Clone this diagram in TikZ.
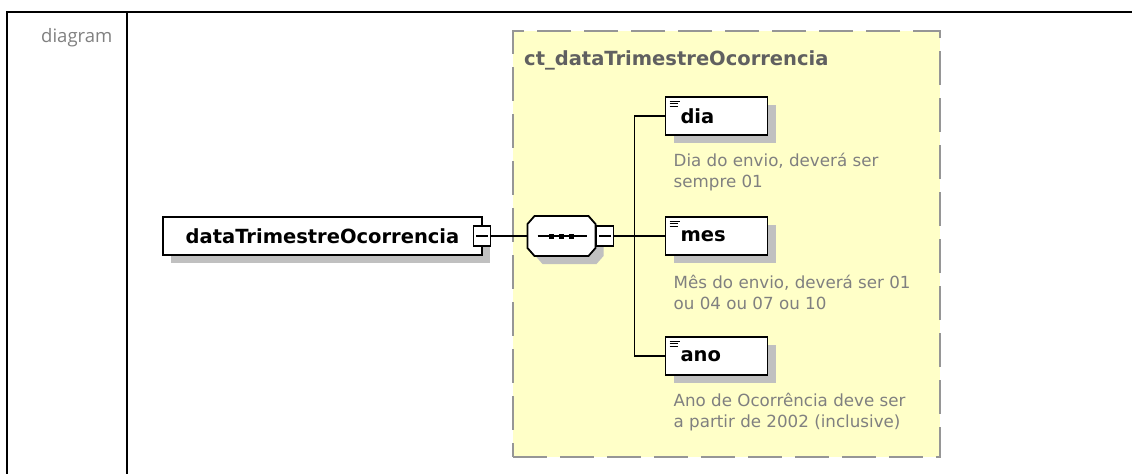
\documentclass[tikz,border=0pt]{standalone}
\usepackage{fontspec}
\setmainfont{DejaVu Sans}
\newfontfamily\captionfont{Open Sans}
\usepackage{xcolor}
\usetikzlibrary{positioning,calc,shadows}
\definecolor{boxyellow}{RGB}{255,255,200}
\definecolor{shadowgray}{RGB}{192,192,192}
\definecolor{dashgray}{RGB}{150,150,150}
\definecolor{descgray}{RGB}{128,128,128}
\definecolor{titlegray}{RGB}{96,96,96}

\begin{document}
\begin{tikzpicture}[x=1pt, y=-1pt]
        \tikzset{
            element/.style={draw, fill=white, rectangle, line width=1.8pt, minimum width=319pt, minimum height=38pt, inner sep=0pt, outer sep=0pt, font=\bfseries\fontsize{19.5}{23}\selectfont, drop shadow={shadow xshift=8pt, shadow yshift=-8pt, fill=shadowgray, opacity=1}},
            child/.style={element, minimum width=102pt, text width=72pt, inner xsep=15pt, align=left,
                path picture={
                    \draw[line width=1pt] ([shift={(4pt,-4pt)}]path picture bounding box.north west) -- ++(10pt,0pt);
                    \draw[line width=1pt] ([shift={(4pt,-6.7pt)}]path picture bounding box.north west) -- ++(8pt,0pt);
                    \draw[line width=1pt] ([shift={(4pt,-9.4pt)}]path picture bounding box.north west) -- ++(8pt,0pt);
                }},
            seq/.style={rectangle, minimum width=68pt, minimum height=40pt, inner sep=0pt, outer sep=0pt},
            octagon/.style={draw, fill=white, line width=1.8pt, drop shadow={shadow xshift=8pt, shadow yshift=-8pt, fill=shadowgray, opacity=1}},
            minusbox/.style={draw, fill=white, rectangle, line width=1.4pt, minimum width=17pt, minimum height=20pt, inner sep=0pt, outer sep=0pt,
                path picture={\draw[line width=1.4pt] ([xshift=-6pt]path picture bounding box.center) -- ([xshift=6pt]path picture bounding box.center);}},
            container/.style={draw=dashgray, fill=boxyellow, line width=2pt, dash pattern=on 34pt off 13pt, minimum width=427pt, minimum height=426pt, inner sep=0pt},
            desc/.style={anchor=west, align=left, inner sep=0pt, text=descgray, font=\fontsize{16.7}{21}\selectfont},
            conn/.style={line width=1.8pt}
        }
        \useasboundingbox (0,0) rectangle (1132,474);

        % Frame
        \draw[line width=2.5pt] (1132,12) -- (7,12) -- (7,474);
        \draw[line width=2pt] (127,12) -- (127,474);
        \node[anchor=base west, inner sep=0pt, text=descgray, font=\captionfont\fontsize{18.5}{22}\selectfont] (caption) at (41,42) {diagram};

        % Complex type
        \node[container] (ctbox) at (726.5,244) {};
        \node[anchor=west, inner sep=0pt, text=titlegray, font=\bfseries\fontsize{19.5}{23}\selectfont] (cttitle) at ($(ctbox.north west)+(12,30)$) {ct\_dataTrimestreOcorrencia};

        % Nodes
        \node[element] (elem) at (322.5,236) {dataTrimestreOcorrencia};
        \node[minusbox] (elemminus) at (elem.east) {};
        \node[seq, right=37pt of elemminus] (seq) {};

        % Sequence symbol
        \draw[octagon] ($(seq.north west)+(7,0)$) -- ($(seq.north east)+(-7,0)$) -- ($(seq.north east)+(0,8)$)
            -- ($(seq.south east)+(0,-8)$) -- ($(seq.south east)+(-7,0)$) -- ($(seq.south west)+(7,0)$)
            -- ($(seq.south west)+(0,-8)$) -- ($(seq.north west)+(0,8)$) -- cycle;
        \draw[line width=1.6pt] ($(seq.center)+(-24,0)$) -- ($(seq.center)+(25,0)$);
        \fill ($(seq.center)+(-10,0)$) +(-2.5,-2.5) rectangle +(2.5,2.5);
        \fill (seq.center) +(-2.5,-2.5) rectangle +(2.5,2.5);
        \fill ($(seq.center)+(10,0)$) +(-2.5,-2.5) rectangle +(2.5,2.5);

        \node[minusbox, right=1pt of seq] (seqminus) {};
        \node[child, right=52pt of seqminus] (mes) {mes};
        \node[child, above=82pt of mes] (dia) {dia};
        \node[child, below=82pt of mes] (ano) {ano};

        % Descriptions
        \node[desc] (diadesc) at ($(dia.south west)+(8,37.5)$) {Dia do envio, deverá ser\\sempre 01};
        \node[desc] (mesdesc) at ($(mes.south west)+(8,37.5)$) {Mês do envio, deverá ser 01\\ou 04 ou 07 ou 10};
        \node[desc] (anodesc) at ($(ano.south west)+(8,37.5)$) {Ano de Ocorrência deve ser\\a partir de 2002 (inclusive)};

        % Connections
        \draw[conn] (elemminus) -- (seq);
        \coordinate (bus) at ($(seqminus.east)+(21,0)$);
        \draw[conn] (seqminus) -- (mes);
        \draw[conn] (bus) |- (dia);
        \draw[conn] (bus) |- (ano);
    \end{tikzpicture}
\end{document}
